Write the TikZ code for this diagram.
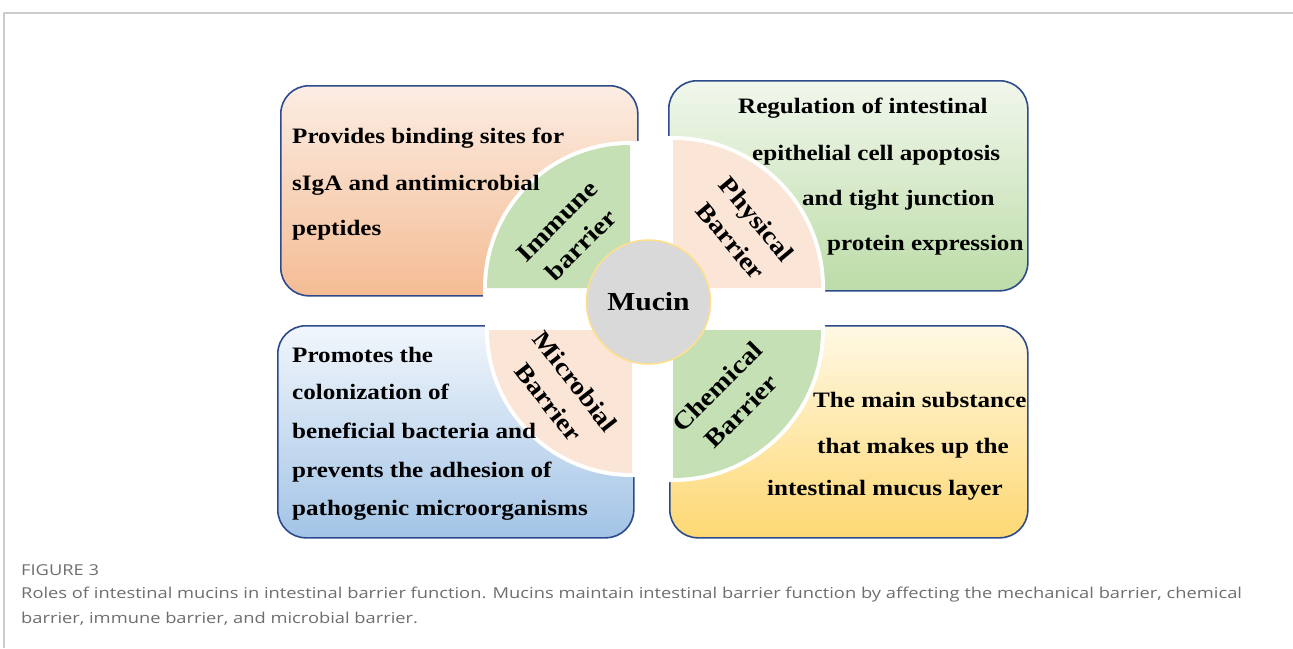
\documentclass[tikz,border=0pt]{standalone}
\usepackage{fontspec}
\usepackage{xcolor}
\usepackage{tikz}
\usetikzlibrary{positioning}
\newfontfamily\figfont[FakeStretch=1.14]{Liberation Serif}
\newfontfamily\capfont[FakeStretch=1.22]{Open Sans}
\definecolor{cardline}{HTML}{2C4A8C}
\definecolor{peachtop}{HTML}{FCEDE3}
\definecolor{peachbot}{HTML}{F4BC94}
\definecolor{greentop}{HTML}{F1F7EC}
\definecolor{greenbot}{HTML}{BCDCA8}
\definecolor{bluetop}{HTML}{F1F6FC}
\definecolor{bluebot}{HTML}{A3C4E6}
\definecolor{yellowtop}{HTML}{FFF8E4}
\definecolor{yellowbot}{HTML}{FDD873}
\definecolor{wedgegreen}{HTML}{C5E0B4}
\definecolor{wedgepeach}{HTML}{FBE5D6}
\definecolor{hubgray}{HTML}{D9D9D9}
\definecolor{hubring}{HTML}{FFE08A}
\definecolor{framegray}{HTML}{CCCCCC}
\definecolor{capgray}{HTML}{6E6E6E}
\tikzset{
  % Card styles
  card/.style 2 args={rectangle, rounded corners=28pt, draw=cardline, line width=1.6pt, top color=#1, bottom color=#2, anchor=north west, inner sep=0pt},
  bodytext/.style={font=\figfont\bfseries\fontsize{22}{26}\selectfont, anchor=base west, inner sep=0pt},
  wedgetext/.style={font=\figfont\bfseries\fontsize{25}{34}\selectfont, align=center, inner sep=0pt},
  hub/.style={circle, fill=hubgray, draw=hubring, line width=1.5pt, minimum size=124pt, inner sep=0pt, font=\figfont\bfseries\fontsize{26}{30}\selectfont},
  captext/.style={font=\capfont\fontsize{15}{18}\selectfont, text=capgray, anchor=base west, inner sep=0pt},
}
\begin{document}
\begin{tikzpicture}[x=1pt, y=1pt]
    \useasboundingbox (0,0) rectangle (1293,-648);
    % Frame
    \draw[framegray, line width=1.2pt] (4,-648) -- (4,-13) -- (1293,-13);
    % Cards
    \node[card={peachtop}{peachbot}, minimum width=357pt, minimum height=210pt] (immbox) at (280,-85) {};
    \node[card={greentop}{greenbot}, minimum width=359pt, minimum height=210pt] (physbox) at (668,-80) {};
    \node[card={bluetop}{bluebot}, minimum width=356pt, minimum height=212pt] (microbox) at (277,-325) {};
    \node[card={yellowtop}{yellowbot}, minimum width=358pt, minimum height=212pt] (chembox) at (669,-325) {};
    % Wedges with white gap
    \foreach \cx/\cy/\a/\r/\col in {630/288/90/143/wedgegreen, 673/288/0/148/wedgepeach, 632/330/180/143/wedgepeach, 673/330/270/148/wedgegreen} {
      \begin{scope}[shift={(\cx,-\cy)}, rotate=\a]
        \fill[white] (-12,-12) -- ({\r+4},-12) -- ({\r+4},0) arc[start angle=0, end angle=90, radius=\r+4] -- (-12,{\r+4}) -- cycle;
        \fill[\col] (0,0) -- (\r,0) arc[start angle=0, end angle=90, radius=\r] -- cycle;
      \end{scope}
    }
    % Hub
    \node[hub] (mucin) at (648.5,-302) {Mucin};
    % Wedge labels
    \node[wedgetext, rotate=45] (immlabel) at (569,-233) {Immune\\barrier};
    \node[wedgetext, rotate=-50] (physlabel) at (744,-230) {Physical\\Barrier};
    \node[wedgetext, rotate=-52] (microlabel) at (562,-392) {Microbial\\Barrier};
    \node[wedgetext, rotate=45] (chemlabel) at (729,-399) {Chemical\\Barrier};
    % Card texts
    \foreach \y/\t in {143/Provides binding sites for, 190/sIgA and antimicrobial, 235/peptides}
      \node[bodytext] (immtxt\y) at (292,-\y) {\t};
    \foreach \x/\y/\t in {738/113/Regulation of intestinal, 752/160/epithelial cell apoptosis, 802/205/and tight junction, 827/250/protein expression}
      \node[bodytext] (phystxt\y) at (\x,-\y) {\t};
    \foreach \y/\t in {362/Promotes the, 399/colonization of, 438/beneficial bacteria and, 477/prevents the adhesion of, 515/pathogenic microorganisms}
      \node[bodytext] (microtxt\y) at (292,-\y) {\t};
    \foreach \x/\y/\t in {813/407/The main substance, 817/453/that makes up the, 767/495/intestinal mucus layer}
      \node[bodytext] (chemtxt\y) at (\x,-\y) {\t};
    % Caption
    \node[captext] (figno) at (21,-575) {FIGURE 3};
    \node[captext] (capone) at (21,-598) {Roles of intestinal mucins in intestinal barrier function. Mucins maintain intestinal barrier function by affecting the mechanical barrier, chemical};
    \node[captext] (captwo) at (21,-623) {barrier, immune barrier, and microbial barrier.};
\end{tikzpicture}
\end{document}
